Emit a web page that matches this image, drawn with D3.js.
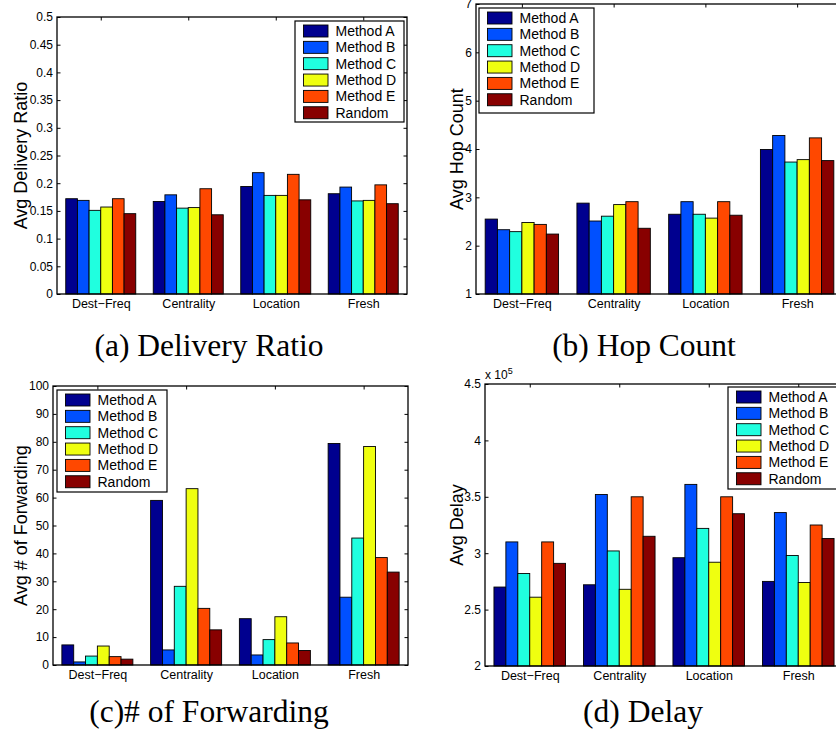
<!DOCTYPE html>
<html>
<head>
<meta charset="utf-8">
<script src="https://cdn.jsdelivr.net/npm/d3@7/dist/d3.min.js"></script>
<style>
  html, body { margin: 0; padding: 0; background: #fff; }
  svg { display: block; }
  .tick text { font-family: "Liberation Sans", Arial, Helvetica, sans-serif; fill: #000; }
</style>
</head>
<body>
<svg id="fig" width="836" height="732"></svg>
<script>
// Categories (x groups) and series shared by all four panels
const categories = ["Dest\u2212Freq", "Centrality", "Location", "Fresh"];
const methods = ["Method A", "Method B", "Method C", "Method D", "Method E", "Random"];
const methodColors = ["#00008f", "#0050ff", "#20ffdf", "#efff10", "#ff4800", "#880000"];

// Values per category, one entry per method (A, B, C, D, E, Random)
const deliveryRatio = [
  [0.172, 0.169, 0.151, 0.157, 0.172, 0.145],
  [0.167, 0.179, 0.155, 0.156, 0.190, 0.143],
  [0.194, 0.219, 0.178, 0.178, 0.216, 0.170],
  [0.181, 0.193, 0.168, 0.169, 0.197, 0.163]
];
const hopCount = [
  [2.55, 2.33, 2.29, 2.48, 2.44, 2.24],
  [2.88, 2.51, 2.61, 2.85, 2.91, 2.36],
  [2.65, 2.91, 2.65, 2.57, 2.91, 2.63],
  [3.99, 4.28, 3.73, 3.78, 4.23, 3.76]
];
const forwarding = [
  [7.2, 1.1, 3.2, 6.8, 3.0, 2.1],
  [59.0, 5.4, 28.2, 63.2, 20.3, 12.6],
  [16.6, 3.6, 9.1, 17.3, 7.9, 5.2],
  [79.4, 24.3, 45.5, 78.3, 38.5, 33.3]
];
// Delay in units of 10^5
const delay = [
  [2.70, 3.10, 2.82, 2.61, 3.10, 2.91],
  [2.72, 3.52, 3.02, 2.68, 3.50, 3.15],
  [2.96, 3.61, 3.22, 2.92, 3.50, 3.35],
  [2.75, 3.36, 2.98, 2.74, 3.25, 3.13]
];

// Tick values for each y axis
const deliveryTicks = [0, 0.05, 0.1, 0.15, 0.2, 0.25, 0.3, 0.35, 0.4, 0.45, 0.5];
const hopTicks = [1, 2, 3, 4, 5, 6, 7];
const forwardingTicks = [0, 10, 20, 30, 40, 50, 60, 70, 80, 90, 100];
const delayTicks = [2, 2.5, 3, 3.5, 4, 4.5];

const svg = d3.select("#fig");
const SANS = '"Liberation Sans", Arial, Helvetica, sans-serif';
const SERIF = '"Liberation Serif", "Times New Roman", Times, serif';
const TICK = 3.5;

function drawPanel(p) {
  const g = svg.append("g");
  const x = d3.scaleLinear().domain([0.5, 4.5]).range([p.left, p.right]);
  const inner = d3.scaleBand().domain(d3.range(methods.length)).range([-0.4, 0.4]);
  const y = d3.scaleLinear().domain([p.ticks[0], p.ticks[p.ticks.length - 1]]).range([p.bottom, p.top]);

  // tick marks (drawn beneath the bars)
  const yl = g.append("g").attr("transform", `translate(${p.left},0)`)
    .call(d3.axisLeft(y).tickValues(p.ticks).tickSize(-TICK).tickPadding(4).tickFormat(d => String(d)));
  yl.select(".domain").remove();
  yl.selectAll("text").style("font-size", "12px").style("font-family", SANS);
  yl.selectAll("line").attr("stroke", "#000");

  const yr = g.append("g").attr("transform", `translate(${p.right},0)`)
    .call(d3.axisRight(y).tickValues(p.ticks).tickSize(-TICK).tickFormat(""));
  yr.select(".domain").remove();

  const xb = g.append("g").attr("transform", `translate(0,${p.bottom})`)
    .call(d3.axisBottom(x).tickValues([1, 2, 3, 4]).tickSize(-TICK).tickPadding(5.6)
      .tickFormat(d => categories[d - 1]));
  xb.select(".domain").remove();
  xb.selectAll("text").style("font-size", "12.5px").style("font-family", SANS);

  const xt = g.append("g").attr("transform", `translate(0,${p.top})`)
    .call(d3.axisTop(x).tickValues([1, 2, 3, 4]).tickSize(-TICK).tickFormat(""));
  xt.select(".domain").remove();

  // bars
  const bw = x(inner.bandwidth()) - x(0);
  p.values.forEach((row, ci) => {
    g.append("g").selectAll("rect").data(row).join("rect")
      .attr("x", (v, mi) => x(ci + 1 + inner(mi)))
      .attr("width", bw)
      .attr("y", v => y(v))
      .attr("height", v => y(p.ticks[0]) - y(v))
      .attr("fill", (v, mi) => methodColors[mi])
      .attr("stroke", "#000")
      .attr("stroke-width", 0.9);
  });

  // axes box
  g.append("rect")
    .attr("x", p.left).attr("y", p.top)
    .attr("width", p.right - p.left).attr("height", p.bottom - p.top)
    .attr("fill", "none").attr("stroke", "#000").attr("stroke-width", 1.3);

  // y label
  g.append("text")
    .attr("transform", `translate(${p.ylabelX},${(p.top + p.bottom) / 2}) rotate(-90)`)
    .attr("text-anchor", "middle")
    .style("font-family", SANS).style("font-size", "18px")
    .text(p.yLabel);

  // legend
  const L = p.legend;
  const lg = g.append("g");
  lg.append("rect").attr("x", L.x).attr("y", L.y).attr("width", L.w).attr("height", L.h)
    .attr("fill", "#fff").attr("stroke", "#000").attr("stroke-width", 1.2);
  methods.forEach((m, i) => {
    const cy = L.y + 10 + i * 16.35;
    lg.append("rect").attr("x", L.x + 8.5).attr("y", cy - 6).attr("width", 24.5).attr("height", 12)
      .attr("fill", methodColors[i]).attr("stroke", "#000").attr("stroke-width", 0.9);
    lg.append("text").attr("x", L.x + 40.5).attr("y", cy).attr("dy", "0.36em")
      .style("font-family", SANS).style("font-size", "14px")
      .text(m);
  });

  // caption
  g.append("text").attr("x", p.capX).attr("y", p.capY).attr("text-anchor", "middle")
    .style("font-family", SERIF).style("font-size", "31.5px")
    .text(p.caption);

  return { x, y, g };
}

drawPanel({
  left: 57, top: 17, right: 407, bottom: 294,
  ticks: deliveryTicks, values: deliveryRatio,
  yLabel: "Avg Delivery Ratio", ylabelX: 27,
  legend: { x: 295, y: 21, w: 109, h: 101 },
  caption: "(a) Delivery Ratio", capX: 209, capY: 356
});

drawPanel({
  left: 476, top: 4, right: 843, bottom: 294,
  ticks: hopTicks, values: hopCount,
  yLabel: "Avg Hop Count", ylabelX: 463,
  legend: { x: 479, y: 8, w: 115, h: 105 },
  caption: "(b) Hop Count", capX: 644, capY: 356
});

drawPanel({
  left: 53, top: 386, right: 408, bottom: 665,
  ticks: forwardingTicks, values: forwarding,
  yLabel: "Avg # of Forwarding", ylabelX: 27,
  legend: { x: 57, y: 390, w: 110, h: 102 },
  caption: "(c)# of Forwarding", capX: 209, capY: 722
});

const d = drawPanel({
  left: 485, top: 384, right: 843, bottom: 666,
  ticks: delayTicks, values: delay,
  yLabel: "Avg Delay", ylabelX: 463,
  legend: { x: 728, y: 387, w: 112, h: 102 },
  caption: "(d) Delay", capX: 643, capY: 722
});

// exponent multiplier for the delay axis
const expo = d.g.append("text").attr("x", 485).attr("y", 379)
  .style("font-family", SANS).style("font-size", "12px");
expo.append("tspan").text("x 10");
expo.append("tspan").attr("dy", -5).style("font-size", "9px").text("5");
</script>
</body>
</html>
